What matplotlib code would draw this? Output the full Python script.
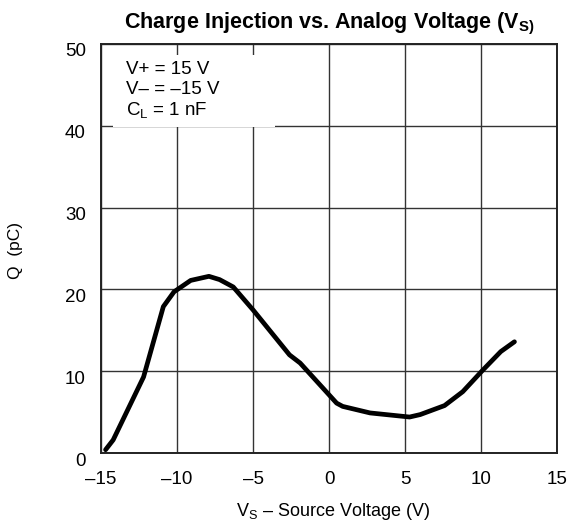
import matplotlib.pyplot as plt
from matplotlib.patches import Rectangle
import matplotlib.transforms as mtransforms

plt.rcParams["font.family"] = ["Liberation Sans", "DejaVu Sans"]
plt.rcParams["mathtext.fontset"] = "custom"
plt.rcParams["mathtext.rm"] = "Liberation Sans"
plt.rcParams["mathtext.bf"] = "Liberation Sans:bold"
plt.rcParams["mathtext.default"] = "regular"

# Curve (V_S in volts, Q in pC)
vs = [-14.7, -14.2, -12.2, -10.9, -10.2, -9.1, -7.9, -7.2, -6.3, -5.0, -2.6,
      -1.9, 0.5, 0.9, 2.7, 5.3, 6.0, 7.6, 8.8, 10.1, 11.3, 12.2]
q = [0.4, 1.6, 9.3, 17.9, 19.7, 21.1, 21.6, 21.2, 20.3, 17.5, 12.0,
     11.0, 6.1, 5.7, 4.9, 4.4, 4.7, 5.8, 7.5, 10.1, 12.4, 13.6]

x_ticks = [-15, -10, -5, 0, 5, 10, 15]
x_labels = ["\u201315", "\u201310", "\u20135", "0", "5", "10", "15"]
y_ticks = [0, 10, 20, 30, 40, 50]
y_labels = ["0", "10", "20", "30", "40", "50"]

conditions = ["V+ = 15 V", "V\u2013 = \u201315 V", "C$_L$ = 1 nF"]

fig = plt.figure(figsize=(5.72, 5.25), dpi=100)
ax = fig.add_axes([0.1766, 0.1371, 0.7972, 0.7791])

ax.set_xlim(-15, 15)
ax.set_ylim(0, 50)
ax.set_xticks(x_ticks)
ax.set_xticklabels(x_labels, fontsize=13.5)
ax.set_yticks(y_ticks)
ax.set_yticklabels(y_labels, fontsize=13.5)
ax.tick_params(length=0)
ax.tick_params(axis="x", pad=13)
ax.tick_params(axis="y", pad=11)

# y labels sit a little below their grid lines in the original
offset = mtransforms.ScaledTranslation(0, -6 / 100, fig.dpi_scale_trans)
for lbl in ax.get_yticklabels():
    lbl.set_transform(lbl.get_transform() + offset)

ax.grid(True, color="#333333", linewidth=1.0, zorder=1)
ax.set_axisbelow(True)
for sp in ax.spines.values():
    sp.set_linewidth(1.4)
    sp.set_color("#222222")

# White box behind the test conditions (hides the grid there)
ax.add_patch(Rectangle((-14.2, 39.85), 10.65, 8.85, facecolor="white",
                       edgecolor="none", zorder=2))
for i, line in enumerate(conditions):
    ax.text(-13.36, 46.9 - i * 2.5, line, fontsize=13.5, va="center",
            ha="left", zorder=3)

ax.plot(vs, q, color="black", linewidth=3.4, solid_capstyle="round",
        solid_joinstyle="round", zorder=4, clip_on=False)

ax.set_title(r"Charge Injection vs. Analog Voltage (V$_\mathbf{S)}$",
             fontsize=15.5, fontweight="bold", pad=11)
fig.text(0.582, 0.026, "V$_S$ \u2013 Source Voltage (V)", fontsize=13,
         ha="center", va="center")
fig.text(0.027, 0.522, "Q  (pC)", fontsize=12.5, rotation=90,
         ha="center", va="center")

fig.savefig("out.png", dpi=100)
